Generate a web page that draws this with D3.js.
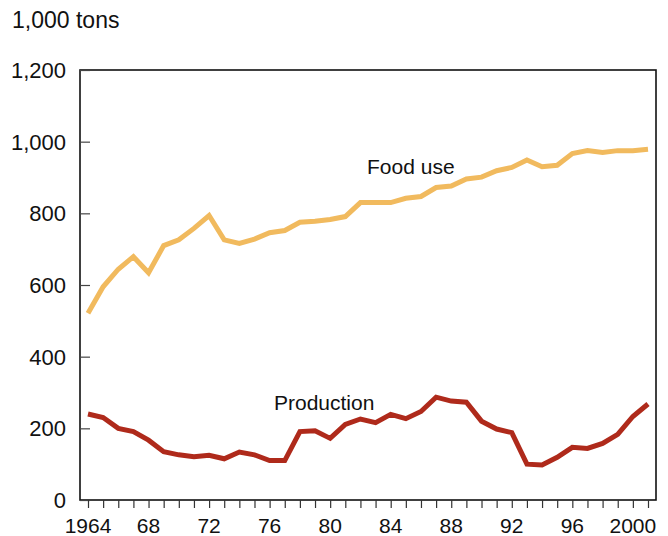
<!DOCTYPE html>
<html>
<head>
<meta charset="utf-8">
<script src="https://cdn.jsdelivr.net/npm/d3@7"></script>
<style>
  body { margin: 0; background: #fff; }
  svg text { font-family: 'Liberation Sans', Arial, sans-serif; fill: #111; }
</style>
</head>
<body>
<div id="chart"></div>
<script>
const years = d3.range(1964, 2002);
const foodUse = [521, 595, 644, 679, 634, 710, 726, 758, 794, 726,
  716, 728, 746, 752, 775, 778, 783, 791, 830, 830,
  830, 842, 847, 872, 876, 896, 901, 919, 928, 949,
  930, 934, 967, 975, 970, 975, 975, 979];
const production = [240, 230, 200, 191, 167, 135, 126, 121, 125, 115,
  134, 126, 110, 110, 191, 193, 172, 211, 226, 216,
  239, 227, 247, 287, 276, 273, 220, 198, 188, 100,
  98, 119, 147, 144, 158, 183, 233, 268];
const yTicks = [0, 200, 400, 600, 800, 1000, 1200];
const xLabelYears = [1964, 1968, 1972, 1976, 1980, 1984, 1988, 1992, 1996, 2000];

const width = 668, height = 536;
const frame = { left: 80, right: 656, top: 70, bottom: 500 };

const svg = d3.select('#chart').append('svg')
  .attr('width', width)
  .attr('height', height);

const x = d3.scaleLinear().domain([1964, 2001]).range([88, 648]);
const y = d3.scaleLinear().domain([0, 1200]).range([frame.bottom, frame.top]);

// frame
svg.append('rect')
  .attr('x', frame.left)
  .attr('y', frame.top)
  .attr('width', frame.right - frame.left)
  .attr('height', frame.bottom - frame.top)
  .attr('fill', 'none')
  .attr('stroke', '#111')
  .attr('stroke-width', 1.6);

// y axis: inward ticks
const yAxis = d3.axisRight(y).tickValues(yTicks).tickSize(10).tickFormat('');
const gy = svg.append('g').attr('transform', `translate(${frame.left},0)`).call(yAxis);
gy.select('.domain').remove();
gy.selectAll('line').attr('stroke', '#444').attr('stroke-width', 1.2);

svg.append('g').selectAll('text')
  .data(yTicks)
  .enter()
  .append('text')
  .attr('x', 66)
  .attr('y', d => y(d))
  .attr('dy', '0.36em')
  .attr('text-anchor', 'end')
  .style('font-size', '22px')
  .text(d3.format(','));

// x axis: a tick for every year
const xAxis = d3.axisBottom(x).tickValues(years).tickSize(8).tickFormat('');
const gx = svg.append('g').attr('transform', `translate(0,${frame.bottom})`).call(xAxis);
gx.select('.domain').remove();
gx.selectAll('line').attr('stroke', '#333').attr('stroke-width', 1.2);

svg.append('g').selectAll('text')
  .data(xLabelYears)
  .enter()
  .append('text')
  .attr('x', d => x(d))
  .attr('y', 533)
  .attr('text-anchor', 'middle')
  .style('font-size', '21px')
  .text(d => (d === 1964 || d === 2000) ? d : String(d).slice(2));

svg.append('text')
  .attr('x', 12)
  .attr('y', 28)
  .style('font-size', '23px')
  .text('1,000 tons');

const line = d3.line()
  .x((d, i) => x(years[i]))
  .y(d => y(d));

svg.append('path')
  .datum(foodUse)
  .attr('d', line)
  .attr('fill', 'none')
  .attr('stroke', '#F1BA5E')
  .attr('stroke-width', 5)
  .attr('stroke-linejoin', 'miter');

svg.append('path')
  .datum(production)
  .attr('d', line)
  .attr('fill', 'none')
  .attr('stroke', '#AF2A1B')
  .attr('stroke-width', 5)
  .attr('stroke-linejoin', 'miter');

svg.append('text')
  .attr('x', 367)
  .attr('y', 174)
  .style('font-size', '21px')
  .text('Food use');

svg.append('text')
  .attr('x', 274)
  .attr('y', 410)
  .style('font-size', '21px')
  .text('Production');
</script>
</body>
</html>
